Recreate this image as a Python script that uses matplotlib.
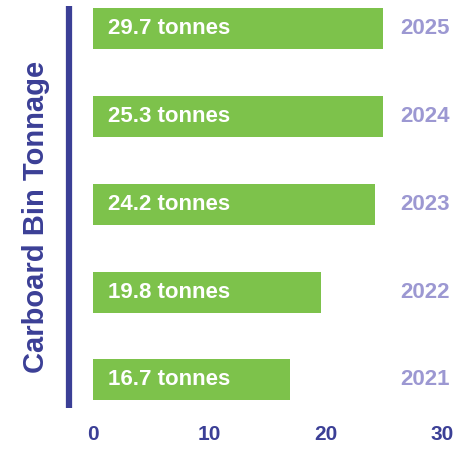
import matplotlib
matplotlib.use("Agg")
import matplotlib.pyplot as plt

years = ["2021", "2022", "2023", "2024", "2025"]
tonnage = [16.7, 19.8, 24.2, 25.3, 29.7]
bar_lengths = [16.9, 19.6, 24.2, 24.9, 24.9]  # drawn lengths as shown in the picture
x_ticks = [0, 10, 20, 30]

green = "#7dc24b"
navy = "#3b3f96"
lavender = "#9c98d2"

plt.rcParams["font.family"] = ["Liberation Sans", "DejaVu Sans"]

fig = plt.figure(figsize=(4.66, 4.49), dpi=100)
W, H = 466, 449
ax = fig.add_axes([93 / W, (H - 408) / H, 349 / W, 402 / H])

ypos = list(range(len(years)))
ax.barh(ypos, bar_lengths, height=0.466, color=green, left=0)

for y, v in zip(ypos, tonnage):
    ax.text(1.3, y, f"{v} tonnes", color="white", fontsize=16, fontweight="bold",
            ha="left", va="center")
for y, yr in zip(ypos, years):
    ax.text(28.55, y, yr, color=lavender, fontsize=16, fontweight="bold",
            ha="center", va="center")

ax.set_xlim(0, 30)
ax.set_ylim(-0.32, 4.26)
ax.set_xticks(x_ticks)
ax.set_xticklabels([str(t) for t in x_ticks], color=navy, fontsize=15, fontweight="bold")
ax.set_yticks([])
ax.tick_params(axis="x", length=0, pad=12)

for s in ["top", "right", "bottom"]:
    ax.spines[s].set_visible(False)
ax.spines["left"].set_position(("outward", 17))
ax.spines["left"].set_linewidth(4.5)
ax.spines["left"].set_color(navy)
ax.spines["left"].set_capstyle("butt")

fig.text(36 / W, (H - 217) / H, "Carboard Bin Tonnage", rotation=90, color=navy,
         fontsize=21, fontweight="bold", ha="center", va="center")

fig.savefig("out.png", dpi=100)
